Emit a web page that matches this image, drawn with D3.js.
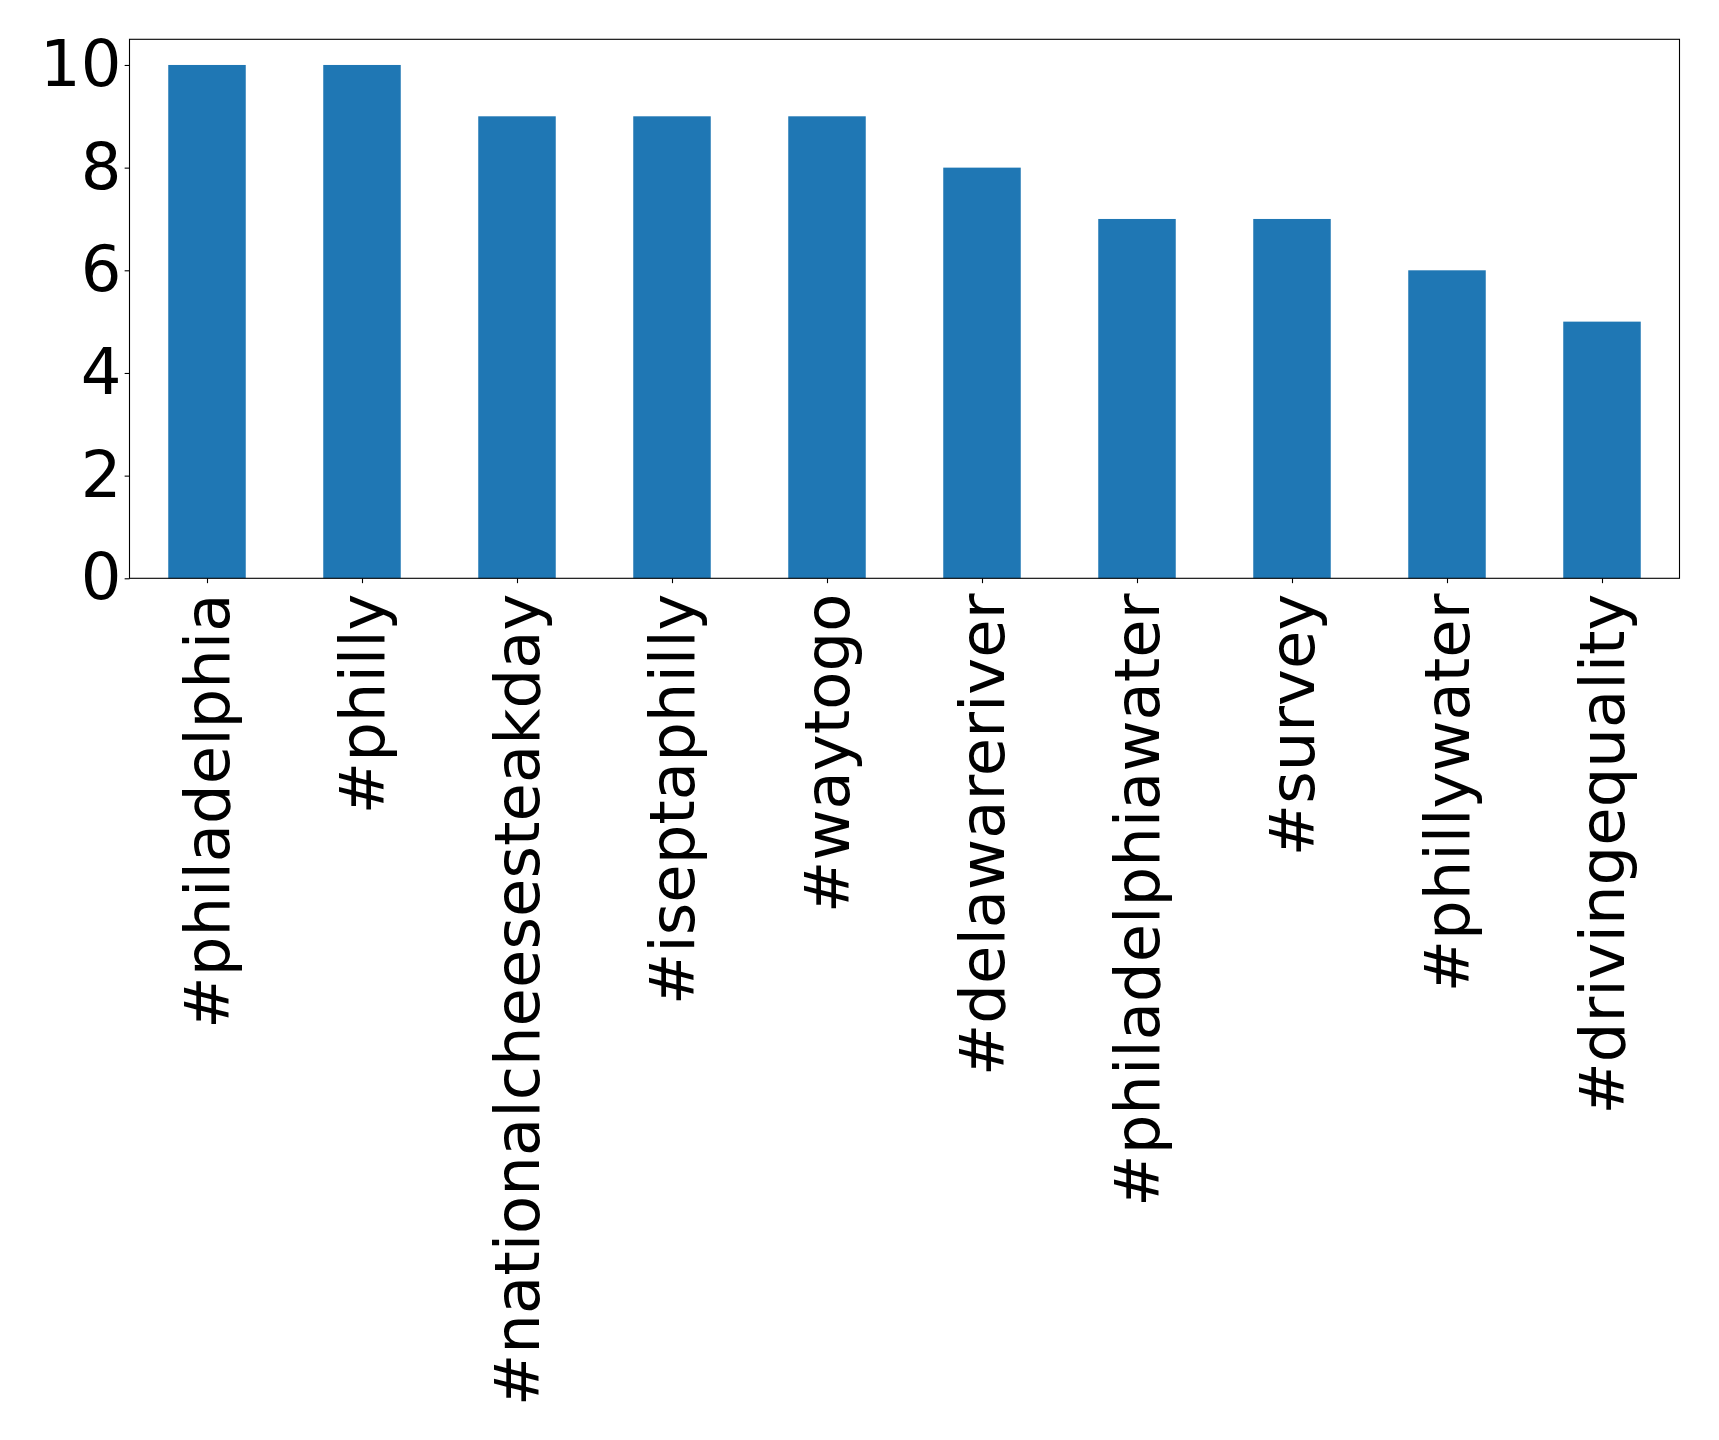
<!DOCTYPE html>
<html><head><meta charset="utf-8">
<script src="https://cdn.jsdelivr.net/npm/d3@7"></script>
<style>body{margin:0;background:#fff}</style>
</head><body>
<script>
const categories = ["#philadelphia","#philly","#nationalcheesesteakday","#iseptaphilly","#waytogo","#delawareriver","#philadelphiawater","#survey","#phillywater","#drivingequality"];
const values = [10,10,9,9,9,8,7,7,6,5];
const yTicks = [0,2,4,6,8,10];

(function () {
const W = 1719, H = 1440;
const mLeft = 129.5, mRight = 1679.5, mTop = 39.3, mBottom = 578.3;
const fsX = 62.5, fsY = 64;
const svg = d3.select("body").append("svg").attr("width", W).attr("height", H)
  .style("font-family", "DejaVu Sans");

const x = d3.scaleLinear().domain([-0.5, categories.length - 0.5]).range([mLeft, mRight]);
const y = d3.scaleLinear().domain([0, 10.5]).range([mBottom, mTop]);
const bw = x(0.25) - x(-0.25);

svg.append("g").selectAll("rect").data(values).join("rect")
  .attr("x", (d, i) => x(i) - bw / 2)
  .attr("y", d => y(d))
  .attr("width", bw)
  .attr("height", d => y(0) - y(d))
  .attr("fill", "#1f77b4");

const yAxis = d3.axisLeft(y).tickValues(yTicks).tickSize(4.86).tickPadding(3.2).tickFormat(d3.format("d"));
const gy = svg.append("g").attr("transform", `translate(${mLeft},0)`).call(yAxis);
gy.select(".domain").remove();
gy.selectAll("line").attr("stroke", "#000").attr("stroke-width", 1.1);
gy.selectAll("text").attr("font-size", fsY).attr("font-family", "DejaVu Sans").attr("fill", "#000");

const xAxis = d3.axisBottom(x).tickValues(d3.range(categories.length)).tickSize(4.86).tickFormat(i => categories[i]);
const gx = svg.append("g").attr("transform", `translate(0,${mBottom})`).call(xAxis);
gx.select(".domain").remove();
gx.selectAll("line").attr("stroke", "#000").attr("stroke-width", 1.1);
gx.selectAll("text")
  .attr("font-size", fsX).attr("font-family", "DejaVu Sans").attr("fill", "#000")
  .attr("text-anchor", "end")
  .attr("dy", null)
  .attr("y", 0)
  .attr("dominant-baseline", "central")
  .attr("transform", "translate(0,15.2) rotate(-90)");

svg.append("rect").attr("x", mLeft).attr("y", mTop).attr("width", mRight - mLeft).attr("height", mBottom - mTop)
  .attr("fill", "none").attr("stroke", "#000").attr("stroke-width", 1.1);
})();
</script>
</body></html>
